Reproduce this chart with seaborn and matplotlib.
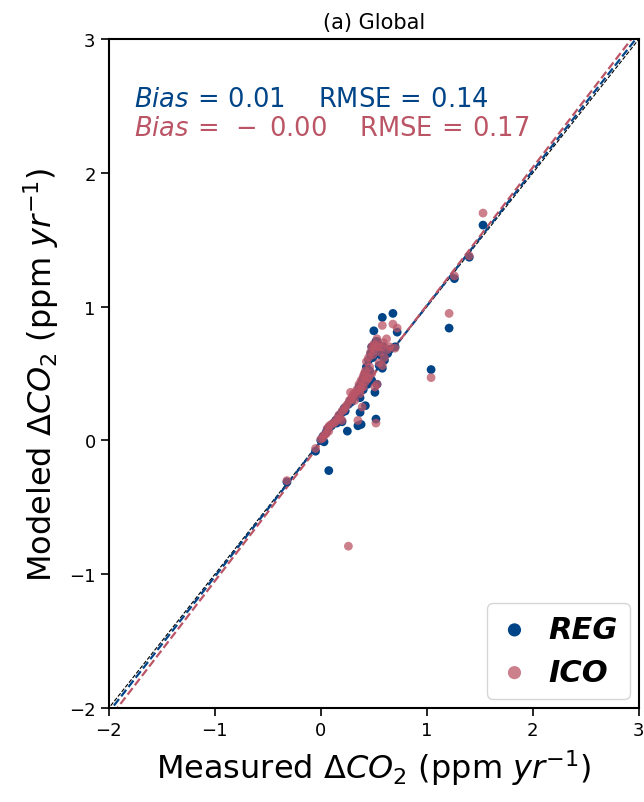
import numpy as np
import pandas as pd
import seaborn as sns
import matplotlib.pyplot as plt

# Measured vs modeled annual CO2 growth (ppm/yr), one row per site
measured = [-0.32, -0.05, 0.00, 0.02, 0.03, 0.05, 0.06, 0.075, 0.08, 0.10,
            0.12, 0.14, 0.15, 0.17, 0.18, 0.20, 0.20, 0.22, 0.23, 0.25,
            0.26, 0.27, 0.28, 0.29, 0.30, 0.31, 0.32, 0.33, 0.34, 0.35,
            0.36, 0.37, 0.37, 0.38, 0.38, 0.39, 0.40, 0.40, 0.41, 0.42,
            0.42, 0.43, 0.44, 0.45, 0.45, 0.46, 0.47, 0.48, 0.48, 0.49,
            0.50, 0.50, 0.51, 0.52, 0.52, 0.53, 0.53, 0.54, 0.55, 0.56,
            0.57, 0.58, 0.58, 0.59, 0.60, 0.62, 0.63, 0.65, 0.68, 0.70,
            0.72, 1.04, 1.21, 1.26, 1.40, 1.53]
modeled_reg = [-0.31, -0.08, 0.00, 0.03, -0.01, 0.06, 0.08, -0.225, 0.10, 0.11,
               0.13, 0.15, 0.13, 0.18, 0.19, 0.21, 0.14, 0.24, 0.22, 0.07,
               0.27, 0.28, 0.30, 0.29, 0.32, 0.33, 0.33, 0.34, 0.36, 0.11,
               0.40, 0.21, 0.32, 0.12, 0.42, 0.44, 0.46, 0.38, 0.48, 0.26,
               0.50, 0.55, 0.42, 0.44, 0.60, 0.52, 0.65, 0.70, 0.45, 0.62,
               0.82, 0.68, 0.36, 0.16, 0.74, 0.74, 0.42, 0.72, 0.56, 0.64,
               0.66, 0.92, 0.54, 0.70, 0.60, 0.66, 0.65, 0.68, 0.95, 0.70,
               0.81, 0.53, 0.84, 1.21, 1.37, 1.61]
modeled_ico = [-0.30, -0.06, 0.01, 0.02, 0.04, 0.05, 0.09, 0.07, 0.11, 0.12,
               0.13, 0.14, 0.16, 0.19, 0.17, 0.22, 0.15, 0.23, 0.25, 0.27,
               -0.79, 0.30, 0.36, 0.31, 0.33, 0.35, 0.30, 0.36, 0.38, 0.15,
               0.42, 0.38, 0.35, 0.40, 0.45, 0.25, 0.48, 0.40, 0.50, 0.44,
               0.52, 0.59, 0.46, 0.47, 0.62, 0.55, 0.66, 0.70, 0.50, 0.64,
               0.72, 0.69, 0.40, 0.13, 0.71, 0.76, 0.42, 0.70, 0.58, 0.66,
               0.70, 0.86, 0.56, 0.73, 0.62, 0.76, 0.68, 0.70, 0.87, 0.69,
               0.84, 0.47, 0.95, 1.23, 1.38, 1.70]

# Fit lines (slope, intercept)
fit_reg = (1.012, -0.006)
fit_ico = (1.031, -0.020)
stats_reg = ('0.01', '0.14')
stats_ico = (r'-\;0.00', '0.17')

blue = '#004488'
pink = '#bb5566'

df = pd.DataFrame({'measured': measured, 'REG': modeled_reg, 'ICO': modeled_ico})

sns.set_style('ticks', rc={'text.color': 'black', 'axes.labelcolor': 'black',
                           'xtick.color': 'black', 'ytick.color': 'black',
                           'axes.edgecolor': 'black'})
plt.rcParams['font.family'] = ['DejaVu Sans']

fig = plt.figure(figsize=(6.44, 8.03), dpi=100)
ax = fig.add_axes([0.169, 0.117, 0.823, 0.833])

xs = np.array([-2.5, 3.5])
ax.plot(xs, xs, color='black', ls='--', lw=0.8, zorder=1)
ax.plot(xs, fit_reg[0] * xs + fit_reg[1], color=blue, ls='--', lw=1.6, zorder=2)
ax.plot(xs, fit_ico[0] * xs + fit_ico[1], color=pink, ls='--', lw=1.6, zorder=2)

sns.scatterplot(data=df, x='measured', y='REG', color=blue, s=40, edgecolor='none',
                label='REG', ax=ax, zorder=3)
sns.scatterplot(data=df, x='measured', y='ICO', color=pink, s=40, edgecolor='none',
                alpha=0.75, label='ICO', ax=ax, zorder=4)

ax.set_xlim(-2, 3)
ax.set_ylim(-2, 3)
ax.set_xticks([-2, -1, 0, 1, 2, 3])
ax.set_yticks([-2, -1, 0, 1, 2, 3])
ax.tick_params(labelsize=13, length=6, width=1.2, direction='out', colors='black')
for sp in ax.spines.values():
    sp.set_visible(True)
    sp.set_linewidth(1.5)
    sp.set_color('black')

ax.set_xlabel(r'Measured $\Delta CO_2$ (ppm $yr^{-1}$)', fontsize=23, labelpad=6)
ax.set_ylabel(r'Modeled $\Delta CO_2$ (ppm $yr^{-1}$)', fontsize=23, labelpad=6)
ax.set_title('(a) Global', fontsize=15, pad=8)

ax.text(-1.76, 2.50, r'$Bias\,=\,%s$    $\mathrm{RMSE}\,=\,%s$' % stats_reg,
        color=blue, fontsize=18.5)
ax.text(-1.76, 2.28, r'$Bias\,=\;%s$    $\mathrm{RMSE}\,=\,%s$' % stats_ico,
        color=pink, fontsize=18.5)

leg = ax.legend(loc='lower right', markerscale=1.5, handlelength=1.0,
                handletextpad=0.6, borderaxespad=0.3, labelspacing=0.45,
                prop={'size': 22, 'weight': 'bold', 'style': 'italic'})
for t in leg.get_texts():
    t.set_color('black')

fig.savefig('out.png', dpi=100)
